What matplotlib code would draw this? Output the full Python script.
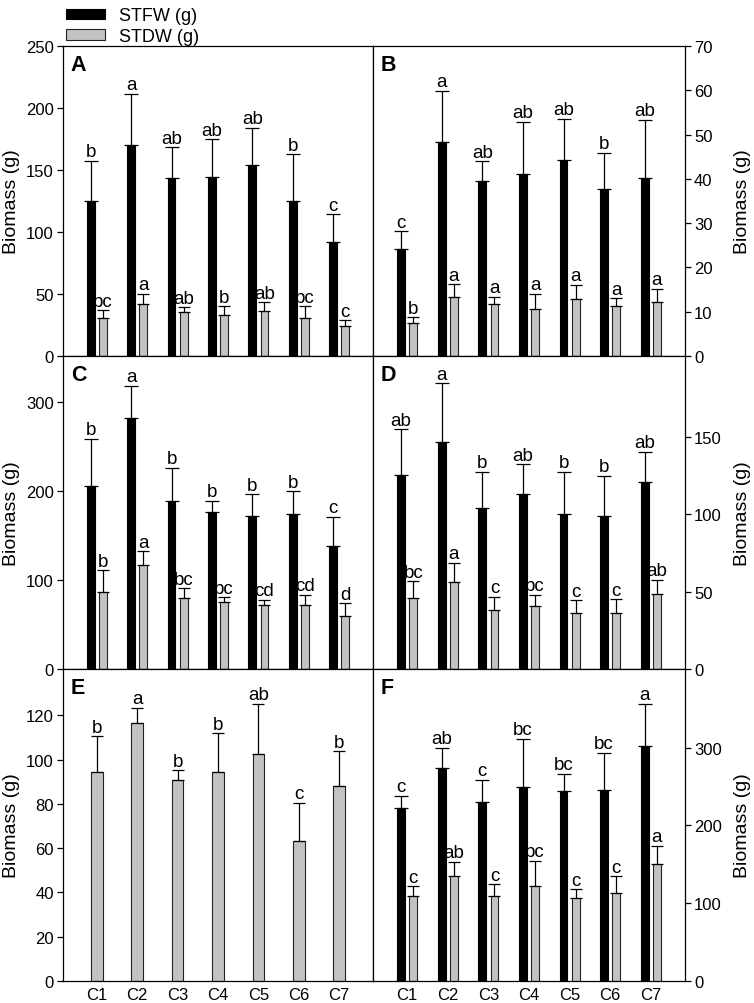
import matplotlib
matplotlib.use("Agg")
import matplotlib.pyplot as plt
from matplotlib.patches import Patch
import numpy as np

plt.rcParams['font.family'] = ['Liberation Sans', 'DejaVu Sans']

categories = ["C1", "C2", "C3", "C4", "C5", "C6", "C7"]

# Panel A
A_fw = [125.3, 170.3, 143.8, 144.3, 154.0, 125.0, 92.3]
A_fw_err = [32.2, 41.3, 24.7, 30.3, 30.0, 37.8, 22.2]
A_dw = [30.6, 41.6, 35.4, 33.3, 36.2, 30.8, 24.1]
A_dw_err = [6.4, 8.8, 4.0, 6.7, 7.3, 9.4, 4.6]
A_fw_let = ["b", "a", "ab", "ab", "ab", "b", "c"]
A_dw_let = ["bc", "a", "ab", "b", "ab", "bc", "c"]

# Panel B
B_fw = [24.1, 48.3, 39.6, 41.0, 44.2, 37.8, 40.1]
B_fw_err = [4.1, 11.6, 4.4, 11.9, 9.4, 8.1, 13.3]
B_dw = [7.4, 13.3, 11.8, 10.6, 12.8, 11.2, 12.1]
B_dw_err = [1.3, 2.9, 1.6, 3.5, 3.3, 1.8, 3.1]
B_fw_let = ["c", "a", "ab", "ab", "ab", "b", "ab"]
B_dw_let = ["b", "a", "a", "a", "a", "a", "a"]

# Panel C
C_fw = [206.2, 281.9, 188.6, 176.1, 171.6, 173.9, 138.5]
C_fw_err = [52.7, 36.9, 37.6, 13.2, 25.2, 26.3, 32.7]
C_dw = [86.6, 117.0, 79.4, 75.3, 71.9, 71.5, 59.8]
C_dw_err = [24.4, 15.5, 11.7, 5.6, 6.0, 12.1, 14.0]
C_fw_let = ["b", "a", "b", "b", "b", "b", "c"]
C_dw_let = ["b", "a", "bc", "bc", "cd", "cd", "d"]

# Panel D
D_fw = [125.5, 146.5, 103.7, 113.0, 100.0, 98.6, 120.9]
D_fw_err = [29.4, 37.9, 23.5, 19.3, 27.2, 26.2, 19.2]
D_dw = [45.6, 56.0, 38.3, 40.9, 35.9, 35.9, 48.6]
D_dw_err = [11.0, 12.6, 8.4, 6.9, 8.4, 9.3, 9.1]
D_fw_let = ["ab", "a", "b", "ab", "b", "b", "ab"]
D_dw_let = ["bc", "a", "c", "bc", "c", "c", "ab"]

# Panel E (STDW only)
E_dw = [94.4, 116.8, 91.0, 94.4, 102.6, 63.3, 88.3]
E_dw_err = [16.1, 6.8, 4.3, 17.6, 22.8, 17.2, 15.5]
E_dw_let = ["b", "a", "b", "b", "ab", "c", "b"]

# Panel F
F_fw = [222.0, 273.9, 230.2, 249.0, 243.9, 245.6, 302.6]
F_fw_err = [16.3, 26.1, 28.7, 62.2, 22.3, 47.6, 53.6]
F_dw = [109.7, 134.6, 109.7, 122.6, 106.7, 112.7, 150.9]
F_dw_err = [12.0, 18.8, 15.0, 32.1, 11.2, 21.9, 22.7]
F_fw_let = ["c", "ab", "c", "bc", "bc", "bc", "a"]
F_dw_let = ["c", "ab", "c", "bc", "c", "c", "a"]

legend_labels = ["STFW (g)", "STDW (g)"]
ylabel = "Biomass (g)"

BLACK = "#000000"
GRAY = "#c3c3c3"

W, H = 754, 1004
fig = plt.figure(figsize=(W / 100, H / 100), dpi=100)

def fx(px):
    return px / W

def fy(py):
    return 1 - py / H

cols = [(63, 373), (373, 685)]
rows = [(47, 357), (357, 670), (670, 982)]

def make_ax(r, c):
    x0, x1 = cols[c]
    y0, y1 = rows[r]
    return fig.add_axes([fx(x0), fy(y1), fx(x1) - fx(x0), (y1 - y0) / H])

x = np.arange(len(categories))
OFF = 0.15
BW = 0.19
TICK_FS = 12
LAB_FS = 14
LET_FS = 13.5

def annotate(ax, xs, tops, letters):
    for xi, t, l in zip(xs, tops, letters):
        ax.annotate(l, (xi, t), xytext=(0, 3.2), textcoords="offset points",
                    ha="center", va="baseline", fontsize=LET_FS)

def pair(ax, fw, fwe, dw, dwe, fl, dl):
    ax.bar(x - OFF, fw, BW, color=BLACK, edgecolor=BLACK, linewidth=0.8, zorder=2)
    ax.bar(x + OFF, dw, BW, color=GRAY, edgecolor="#222222", linewidth=0.8, zorder=2)
    ax.errorbar(x - OFF, fw, yerr=[np.zeros(7), fwe], fmt="none", ecolor="black",
                elinewidth=0.9, capsize=4.7, capthick=0.9, zorder=3)
    ax.errorbar(x + OFF, dw, yerr=[np.zeros(7), dwe], fmt="none", ecolor="black",
                elinewidth=0.9, capsize=4.0, capthick=0.9, zorder=3)
    annotate(ax, x - OFF, np.array(fw) + np.array(fwe), fl)
    annotate(ax, x + OFF, np.array(dw) + np.array(dwe), dl)

def style(ax, side, ylim, yticks, letter, bottom=False):
    ax.set_xlim(-0.84, 6.84)
    ax.set_ylim(*ylim)
    ax.set_yticks(yticks)
    for s in ax.spines.values():
        s.set_linewidth(0.9)
    ax.tick_params(axis="y", direction="out", length=4, width=0.9, labelsize=TICK_FS, pad=2.5)
    if side == "left":
        ax.yaxis.tick_left()
        ax.set_ylabel(ylabel, fontsize=LAB_FS, va="bottom")
        ax.yaxis.set_label_coords((20 - 63) / 310, 0.5)
    else:
        ax.yaxis.tick_right()
        ax.yaxis.set_label_position("right")
        ax.set_ylabel(ylabel, fontsize=LAB_FS, rotation=90, va="top")
        ax.yaxis.set_label_coords((734 - 373) / 312, 0.5)
    ax.set_xticks(x)
    if bottom:
        ax.set_xticklabels(categories, fontsize=TICK_FS)
        ax.tick_params(axis="x", length=0, pad=4)
    else:
        ax.set_xticklabels([])
        ax.tick_params(axis="x", length=0)
    ax.text(0.025, 0.975, letter, transform=ax.transAxes, ha="left", va="top",
            fontsize=15.5, fontweight="bold")

axA = make_ax(0, 0)
pair(axA, A_fw, A_fw_err, A_dw, A_dw_err, A_fw_let, A_dw_let)
style(axA, "left", (0, 250), [0, 50, 100, 150, 200, 250], "A")

axB = make_ax(0, 1)
pair(axB, B_fw, B_fw_err, B_dw, B_dw_err, B_fw_let, B_dw_let)
style(axB, "right", (0, 70), [0, 10, 20, 30, 40, 50, 60, 70], "B")

axC = make_ax(1, 0)
pair(axC, C_fw, C_fw_err, C_dw, C_dw_err, C_fw_let, C_dw_let)
style(axC, "left", (0, 352), [0, 100, 200, 300], "C")

axD = make_ax(1, 1)
pair(axD, D_fw, D_fw_err, D_dw, D_dw_err, D_fw_let, D_dw_let)
style(axD, "right", (0, 202), [0, 50, 100, 150], "D")

axE = make_ax(2, 0)
axE.bar(x, E_dw, 0.29, color=GRAY, edgecolor="#222222", linewidth=0.8, zorder=2)
axE.errorbar(x, E_dw, yerr=[np.zeros(7), E_dw_err], fmt="none", ecolor="black",
             elinewidth=0.9, capsize=4.6, capthick=0.9, zorder=3)
annotate(axE, x, np.array(E_dw) + np.array(E_dw_err), E_dw_let)
style(axE, "left", (0, 141), [0, 20, 40, 60, 80, 100, 120], "E", bottom=True)

axF = make_ax(2, 1)
pair(axF, F_fw, F_fw_err, F_dw, F_dw_err, F_fw_let, F_dw_let)
style(axF, "right", (0, 401), [0, 100, 200, 300], "F", bottom=True)

handles = [Patch(facecolor=BLACK, edgecolor=BLACK, linewidth=0.8),
           Patch(facecolor=GRAY, edgecolor="#222222", linewidth=0.8)]
fig.legend(handles, legend_labels, loc="upper left",
           bbox_to_anchor=(fx(59), fy(1)), frameon=False, fontsize=13,
           handlelength=2.15, handleheight=0.5, handletextpad=0.75,
           labelspacing=0.2, borderaxespad=0)

fig.savefig("out.png", dpi=100)
